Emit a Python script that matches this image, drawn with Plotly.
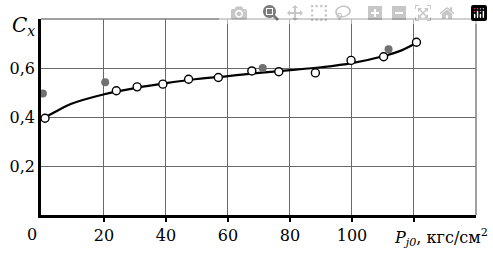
import plotly.graph_objects as go

# open circles (experiment series 1)
open_x = [1, 24.0, 30.7, 39.0, 47.3, 56.9, 67.7, 76.4, 88.2, 99.7, 110.2, 120.8]
open_y = [0.395, 0.507, 0.523, 0.534, 0.554, 0.561, 0.588, 0.585, 0.580, 0.631, 0.646, 0.705]

# gray filled circles (experiment series 2)
fill_x = [0.3, 20.4, 71.2, 111.8, 120.8]
fill_y = [0.496, 0.542, 0.600, 0.677, 0.705]

# fitted curve
curve_x = [0, 3, 9.3, 19.8, 30, 40, 50, 60, 64.5, 70, 80, 90, 100, 110, 116, 120.8]
curve_y = [0.393, 0.412, 0.453, 0.492, 0.518, 0.538, 0.555, 0.567, 0.573, 0.580, 0.591, 0.603, 0.620, 0.648, 0.672, 0.703]

x_ticks = [20, 40, 60, 80, 100, 120]
x_labels = ["20", "40", "60", "80", "100", " "]
y_ticks = [0.2, 0.4, 0.6, 0.8]
y_labels = ["0,2", "0,4", "0,6", " "]

FONT = "DejaVu Serif"
W, H, L, R, T, B = 493, 255, 38, 17, 10, 38
pw, ph = W - L - R, H - T - B
def px(x): return (x - L) / pw
def py(y): return (H - B - y) / ph

fig = go.Figure()
fig.add_trace(go.Scatter(x=curve_x, y=curve_y, mode="lines",
                         line=dict(color="black", width=2.2, shape="spline", smoothing=1.0),
                         hoverinfo="skip", showlegend=False))
fig.add_trace(go.Scatter(x=fill_x, y=fill_y, mode="markers",
                         marker=dict(size=8, color="#707070", line=dict(width=0)),
                         showlegend=False))
fig.add_trace(go.Scatter(x=open_x, y=open_y, mode="markers",
                         marker=dict(size=8, color="white", line=dict(color="black", width=1.4)),
                         showlegend=False))

fig.update_layout(
    width=W, height=H,
    margin=dict(l=L, r=R, t=T, b=B),
    paper_bgcolor="white", plot_bgcolor="white",
    font=dict(family=FONT, size=16, color="black"),
    xaxis=dict(range=[-0.3, 140], tickmode="array", tickvals=x_ticks, ticktext=x_labels,
               showgrid=True, gridcolor="dimgray", gridwidth=1.2,
               showline=True, linecolor="black", linewidth=2.5,
               ticks="outside", ticklen=4, tickcolor="black", tickwidth=1.5,
               zeroline=False),
    yaxis=dict(range=[0, 0.8], tickmode="array", tickvals=y_ticks, ticktext=y_labels,
               showgrid=True, gridcolor="dimgray", gridwidth=1.2,
               showline=True, linecolor="black", linewidth=2.5,
               ticks="", zeroline=False),
    shapes=[
        dict(type="line", xref="paper", yref="paper", x0=0, x1=1, y0=1, y1=1,
             line=dict(color="gray", width=1.5)),
        dict(type="line", xref="paper", yref="paper", x0=1, x1=1, y0=0, y1=1,
             line=dict(color="gray", width=1.5)),
    ],
    annotations=[
        dict(text="0", x=px(22), y=py(238), xref="paper", yref="paper", showarrow=False,
             yanchor="middle", font=dict(family=FONT, size=16)),
        dict(text="<i>C</i><sub><i>x</i></sub>", x=px(7), y=py(2), xref="paper", yref="paper",
             xanchor="left", yanchor="top", showarrow=False, font=dict(family=FONT, size=20)),
        dict(text="<i>P</i><sub><i>j0</i></sub>, кгс/см<sup>2</sup>", x=px(490), y=py(226),
             xref="paper", yref="paper", xanchor="right", yanchor="top", showarrow=False,
             font=dict(family=FONT, size=16)),
    ],
)

fig.write_html("out.html", post_script="document.body.style.margin='0';")
